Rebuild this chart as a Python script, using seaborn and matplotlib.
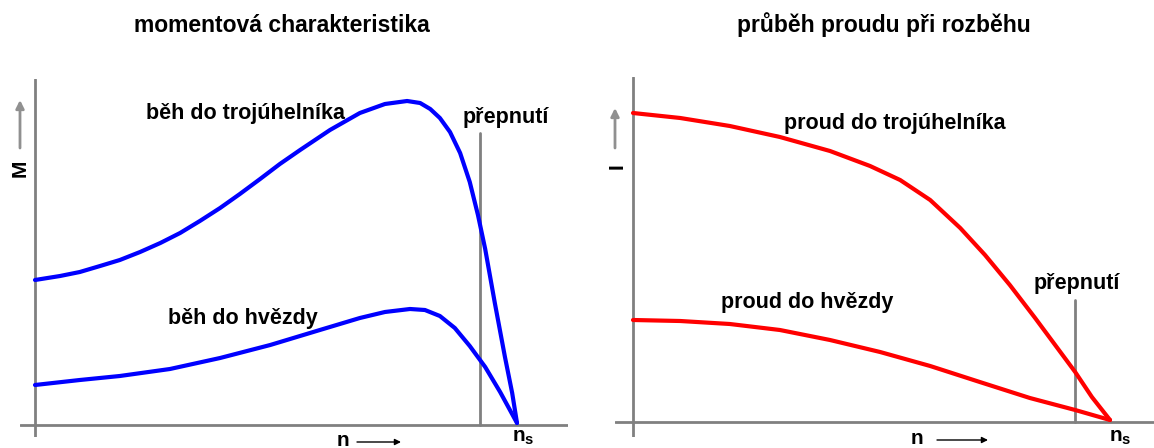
import matplotlib
matplotlib.use("Agg")
import matplotlib.pyplot as plt
import seaborn as sns
import pandas as pd

# ---------------- data (relative speed n/ns, relative magnitude) ----------------
speed_delta_M = [0.000, 0.052, 0.093, 0.135, 0.176, 0.218, 0.260, 0.301, 0.342, 0.384, 0.425,
                 0.467, 0.508, 0.550, 0.612, 0.674, 0.726,
                 0.772, 0.799, 0.820, 0.840, 0.861, 0.882, 0.902, 0.919, 0.934, 0.954, 0.975,
                 0.990, 1.000]
torque_delta = [1.45, 1.49, 1.53, 1.59, 1.65, 1.73, 1.82, 1.92, 2.04, 2.17, 2.31,
                2.46, 2.61, 2.75, 2.95, 3.12, 3.21,
                3.24, 3.22, 3.16, 3.07, 2.93, 2.72, 2.43, 2.10, 1.76, 1.22, 0.68,
                0.32, 0.02]

speed_star_M = [0.000, 0.093, 0.176, 0.280, 0.384, 0.488, 0.591, 0.674, 0.726, 0.778, 0.809,
                0.840, 0.871, 0.902, 0.934, 0.965, 1.000]
torque_star = [0.40, 0.45, 0.49, 0.56, 0.67, 0.80, 0.95, 1.07, 1.13, 1.16, 1.15,
               1.09, 0.97, 0.79, 0.58, 0.33, 0.02]

speed_delta_I = [0.000, 0.099, 0.203, 0.308, 0.413, 0.497, 0.560, 0.623, 0.686, 0.738, 0.790,
                 0.843, 0.885, 0.927, 0.962, 1.000]
current_delta = [3.09, 3.04, 2.96, 2.85, 2.71, 2.56, 2.42, 2.22, 1.94, 1.67, 1.37,
                 1.04, 0.77, 0.50, 0.25, 0.02]

speed_star_I = [0.000, 0.099, 0.203, 0.308, 0.413, 0.518, 0.623, 0.727, 0.832, 0.927, 1.000]
current_star = [1.02, 1.01, 0.98, 0.92, 0.82, 0.70, 0.56, 0.40, 0.24, 0.12, 0.02]

switch_speed_M = 0.923
switch_top_M = 2.92
switch_speed_I = 0.927
switch_top_I = 1.22

titles = ["momentová charakteristika", "průběh proudu při rozběhu"]
labels_M = ["běh do trojúhelníka", "běh do hvězdy"]
labels_I = ["proud do trojúhelníka", "proud do hvězdy"]
switch_label = "přepnutí"

# ---------------- style ----------------
sns.set_style("white")
plt.rcParams['font.family'] = ['Liberation Sans', 'DejaVu Sans']
plt.rcParams['text.color'] = 'black'
plt.rcParams['mathtext.fontset'] = 'custom'
plt.rcParams['mathtext.rm'] = 'Liberation Sans'
plt.rcParams['mathtext.bf'] = 'Liberation Sans:bold'

W, H = 1154, 448
fig = plt.figure(figsize=(W / 100, H / 100), dpi=100)


def fpx(x, y):
    return (x / W, 1 - y / H)


AX_COL = '#808080'

axL = fig.add_axes([20 / W, (H - 437) / H, (568 - 20) / W, (437 - 79) / H])
axR = fig.add_axes([615 / W, (H - 437) / H, (1154 - 615) / W, (437 - 77) / H])

dfL1 = pd.DataFrame({"n": speed_delta_M, "v": torque_delta})
dfL2 = pd.DataFrame({"n": speed_star_M, "v": torque_star})
dfR1 = pd.DataFrame({"n": speed_delta_I, "v": current_delta})
dfR2 = pd.DataFrame({"n": speed_star_I, "v": current_star})

sns.lineplot(data=dfL1, x="n", y="v", ax=axL, color='#0000FF', lw=3, sort=False)
sns.lineplot(data=dfL2, x="n", y="v", ax=axL, color='#0000FF', lw=3, sort=False)
sns.lineplot(data=dfR1, x="n", y="v", ax=axR, color='#FF0000', lw=3, sort=False)
sns.lineplot(data=dfR2, x="n", y="v", ax=axR, color='#FF0000', lw=3, sort=False)

axL.set_xlim((20 - 35) / 482, (568 - 35) / 482)
axL.set_ylim(-0.12, 3.46)
axR.set_xlim((615 - 633) / 477, (1154 - 633) / 477)
axR.set_ylim(-0.15, 3.45)

for ax in (axL, axR):
    ax.axhline(0, color=AX_COL, lw=2, zorder=1)
    ax.axvline(0, color=AX_COL, lw=2, zorder=1)
    for s in ax.spines.values():
        s.set_visible(False)
    ax.set_xticks([])
    ax.set_yticks([])
    ax.set_xlabel("")
    ax.set_ylabel("")
    ax.patch.set_alpha(0)

axL.plot([switch_speed_M, switch_speed_M], [0, switch_top_M], color=AX_COL, lw=2, zorder=1)
axR.plot([switch_speed_I, switch_speed_I], [0, switch_top_I], color=AX_COL, lw=2, zorder=1)

# ---------------- texts ----------------
tkw = dict(ha='center', va='center', fontweight='bold', color='black')
fig.text(*fpx(282, 25), titles[0], fontsize=16.5, **tkw)
fig.text(*fpx(884, 25), titles[1], fontsize=16.5, **tkw)

fig.text(*fpx(245, 113), labels_M[0], fontsize=15.5, **tkw)
fig.text(*fpx(243, 318), labels_M[1], fontsize=15.5, **tkw)
fig.text(*fpx(506, 117), switch_label, fontsize=15.5, **tkw)
fig.text(*fpx(895, 123), labels_I[0], fontsize=15.5, **tkw)
fig.text(*fpx(807, 302), labels_I[1], fontsize=15.5, **tkw)
fig.text(*fpx(1077, 283), switch_label, fontsize=15.5, **tkw)

# axis symbols
fig.text(*fpx(20, 168), "M", fontsize=15, rotation=90, **tkw)
fig.text(*fpx(617, 166), "I", fontsize=15, rotation=90, **tkw)
fig.text(*fpx(343, 440), "n", fontsize=15, **tkw)
fig.text(*fpx(917, 438), "n", fontsize=15, **tkw)
fig.text(*fpx(523, 437), r"$\mathbf{n_s}$", fontsize=15, ha='center', va='center', color='black')
fig.text(*fpx(1120, 437), r"$\mathbf{n_s}$", fontsize=15, ha='center', va='center', color='black')

arr_v = dict(arrowstyle='-|>', color='#909090', lw=2, mutation_scale=12,
             shrinkA=0, shrinkB=0)
fig.add_artist(matplotlib.patches.FancyArrowPatch(fpx(20, 148), fpx(20, 100),
                                                  transform=fig.transFigure, **arr_v))
fig.add_artist(matplotlib.patches.FancyArrowPatch(fpx(615, 148), fpx(615, 108),
                                                  transform=fig.transFigure, **arr_v))
arr_h = dict(arrowstyle='-|>', color='black', lw=1, mutation_scale=9,
             shrinkA=0, shrinkB=0)
fig.add_artist(matplotlib.patches.FancyArrowPatch(fpx(357, 442), fpx(401, 442),
                                                  transform=fig.transFigure, **arr_h))
fig.add_artist(matplotlib.patches.FancyArrowPatch(fpx(937, 440), fpx(988, 440),
                                                  transform=fig.transFigure, **arr_h))

fig.savefig("out.png", dpi=100)
